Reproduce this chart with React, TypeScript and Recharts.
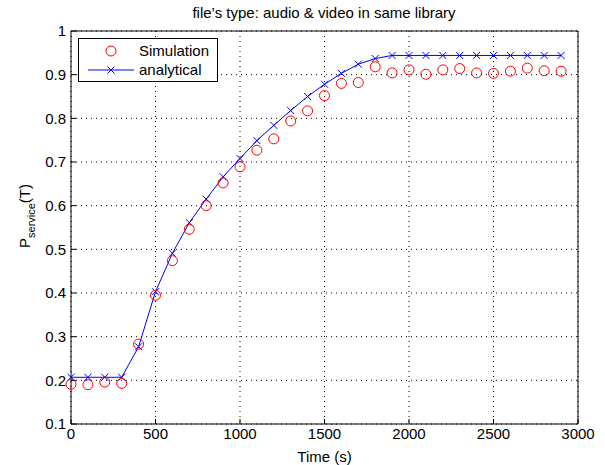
import React from "react";
import {
  ComposedChart, Line, XAxis, YAxis, CartesianGrid, ReferenceLine,
} from "recharts";

const TIMES = [0, 100, 200, 300, 400, 500, 600, 700, 800, 900, 1000, 1100, 1200, 1300, 1400,
  1500, 1600, 1700, 1800, 1900, 2000, 2100, 2200, 2300, 2400, 2500, 2600, 2700, 2800, 2900];

const SIMULATION = [0.191, 0.19, 0.196, 0.193, 0.283, 0.395, 0.474, 0.546, 0.6, 0.652,
  0.689, 0.727, 0.753, 0.794, 0.817, 0.852, 0.88, 0.882, 0.918, 0.904,
  0.911, 0.901, 0.911, 0.914, 0.904, 0.903, 0.908, 0.915, 0.909, 0.908];

const ANALYTICAL = [0.207, 0.207, 0.207, 0.207, 0.277, 0.403, 0.491, 0.561, 0.615, 0.666,
  0.708, 0.749, 0.784, 0.818, 0.85, 0.878, 0.903, 0.924, 0.937, 0.944,
  0.944, 0.944, 0.944, 0.944, 0.944, 0.944, 0.944, 0.944, 0.944, 0.944];

const X_TICKS = [0, 500, 1000, 1500, 2000, 2500, 3000];
const Y_TICKS = [0.1, 0.2, 0.3, 0.4, 0.5, 0.6, 0.7, 0.8, 0.9, 1];

const FONT = "'Liberation Sans', Arial, Helvetica, sans-serif";
const RED = "#ff0000";
const BLUE = "#0000ff";

const data = TIMES.map((t, i) => ({ t, sim: SIMULATION[i], ana: ANALYTICAL[i] }));

function CircleDot(props: any) {
  const { cx, cy, index } = props;
  if (cx == null || cy == null) return null;
  return <circle key={index} cx={cx} cy={cy} r={5} fill="none" stroke={RED} strokeWidth={1} />;
}

function CrossDot(props: any) {
  const { cx, cy, index } = props;
  if (cx == null || cy == null) return null;
  const s = 3.5;
  return (
    <path
      key={index}
      d={`M${cx - s},${cy - s}L${cx + s},${cy + s}M${cx - s},${cy + s}L${cx + s},${cy - s}`}
      stroke={BLUE}
      strokeWidth={1}
    />
  );
}

// legend box drawn straight into the svg so it doesn't eat plot space
function LegendBox() {
  return (
    <g transform="translate(78,38)">
      <rect x={0.5} y={0.5} width={139} height={43} fill="#fff" stroke="#000" strokeWidth={1} />
      <circle cx={33} cy={13} r={5} fill="none" stroke={RED} />
      <text x={61} y={18} fontSize={15} fontFamily={FONT} fill="#000">Simulation</text>
      <line x1={10} y1={32} x2={56} y2={32} stroke={BLUE} />
      <path d="M29.5,28.5L36.5,35.5M29.5,35.5L36.5,28.5" stroke={BLUE} />
      <text x={61} y={37} fontSize={15} fontFamily={FONT} fill="#000">analytical</text>
    </g>
  );
}

function YLabel() {
  return (
    <text transform="translate(30,216) rotate(-90)" textAnchor="middle" fontFamily={FONT} fill="#000">
      <tspan fontSize={15}>P</tspan>
      <tspan fontSize={11} dy={5}>service</tspan>
      <tspan fontSize={15} dy={-5}>(T)</tspan>
    </text>
  );
}

export default function App() {
  return (
    <div style={{ position: "absolute", left: 0, top: 0, width: 605, height: 465, background: "#fff" }}>
      <ComposedChart
        width={605}
        height={465}
        data={data}
        margin={{ top: 31, right: 27, left: 0, bottom: 0 }}
      >
        <text x={324} y={18} textAnchor="middle" fontSize={15} fontFamily={FONT} fill="#000">
          file’s type: audio &amp; video in same library
        </text>
        <CartesianGrid stroke="#000" strokeDasharray="1 4" strokeWidth={1} />
        <XAxis
          dataKey="t"
          type="number"
          domain={[0, 3000]}
          ticks={X_TICKS}
          height={41}
          stroke="#000"
          tickSize={-5}
          tickMargin={9}
          tick={{ fontSize: 15, fill: "#000", fontFamily: FONT }}
          label={{ value: "Time (s)", position: "insideBottom", offset: 3, fontSize: 15, fill: "#000", fontFamily: FONT }}
        />
        <YAxis
          type="number"
          domain={[0.1, 1]}
          ticks={Y_TICKS}
          width={71}
          stroke="#000"
          tickSize={-5}
          tickMargin={10}
          tick={{ fontSize: 15, fill: "#000", fontFamily: FONT }}
          label={<YLabel />}
        />
        <ReferenceLine y={1} stroke="#000" strokeWidth={1} />
        <ReferenceLine x={3000} stroke="#000" strokeWidth={1} />
        <Line
          dataKey="ana"
          stroke={BLUE}
          strokeWidth={1}
          dot={<CrossDot />}
          activeDot={false}
          isAnimationActive={false}
        />
        <Line
          dataKey="sim"
          stroke="none"
          dot={<CircleDot />}
          activeDot={false}
          isAnimationActive={false}
        />
        <LegendBox />
      </ComposedChart>
    </div>
  );
}
